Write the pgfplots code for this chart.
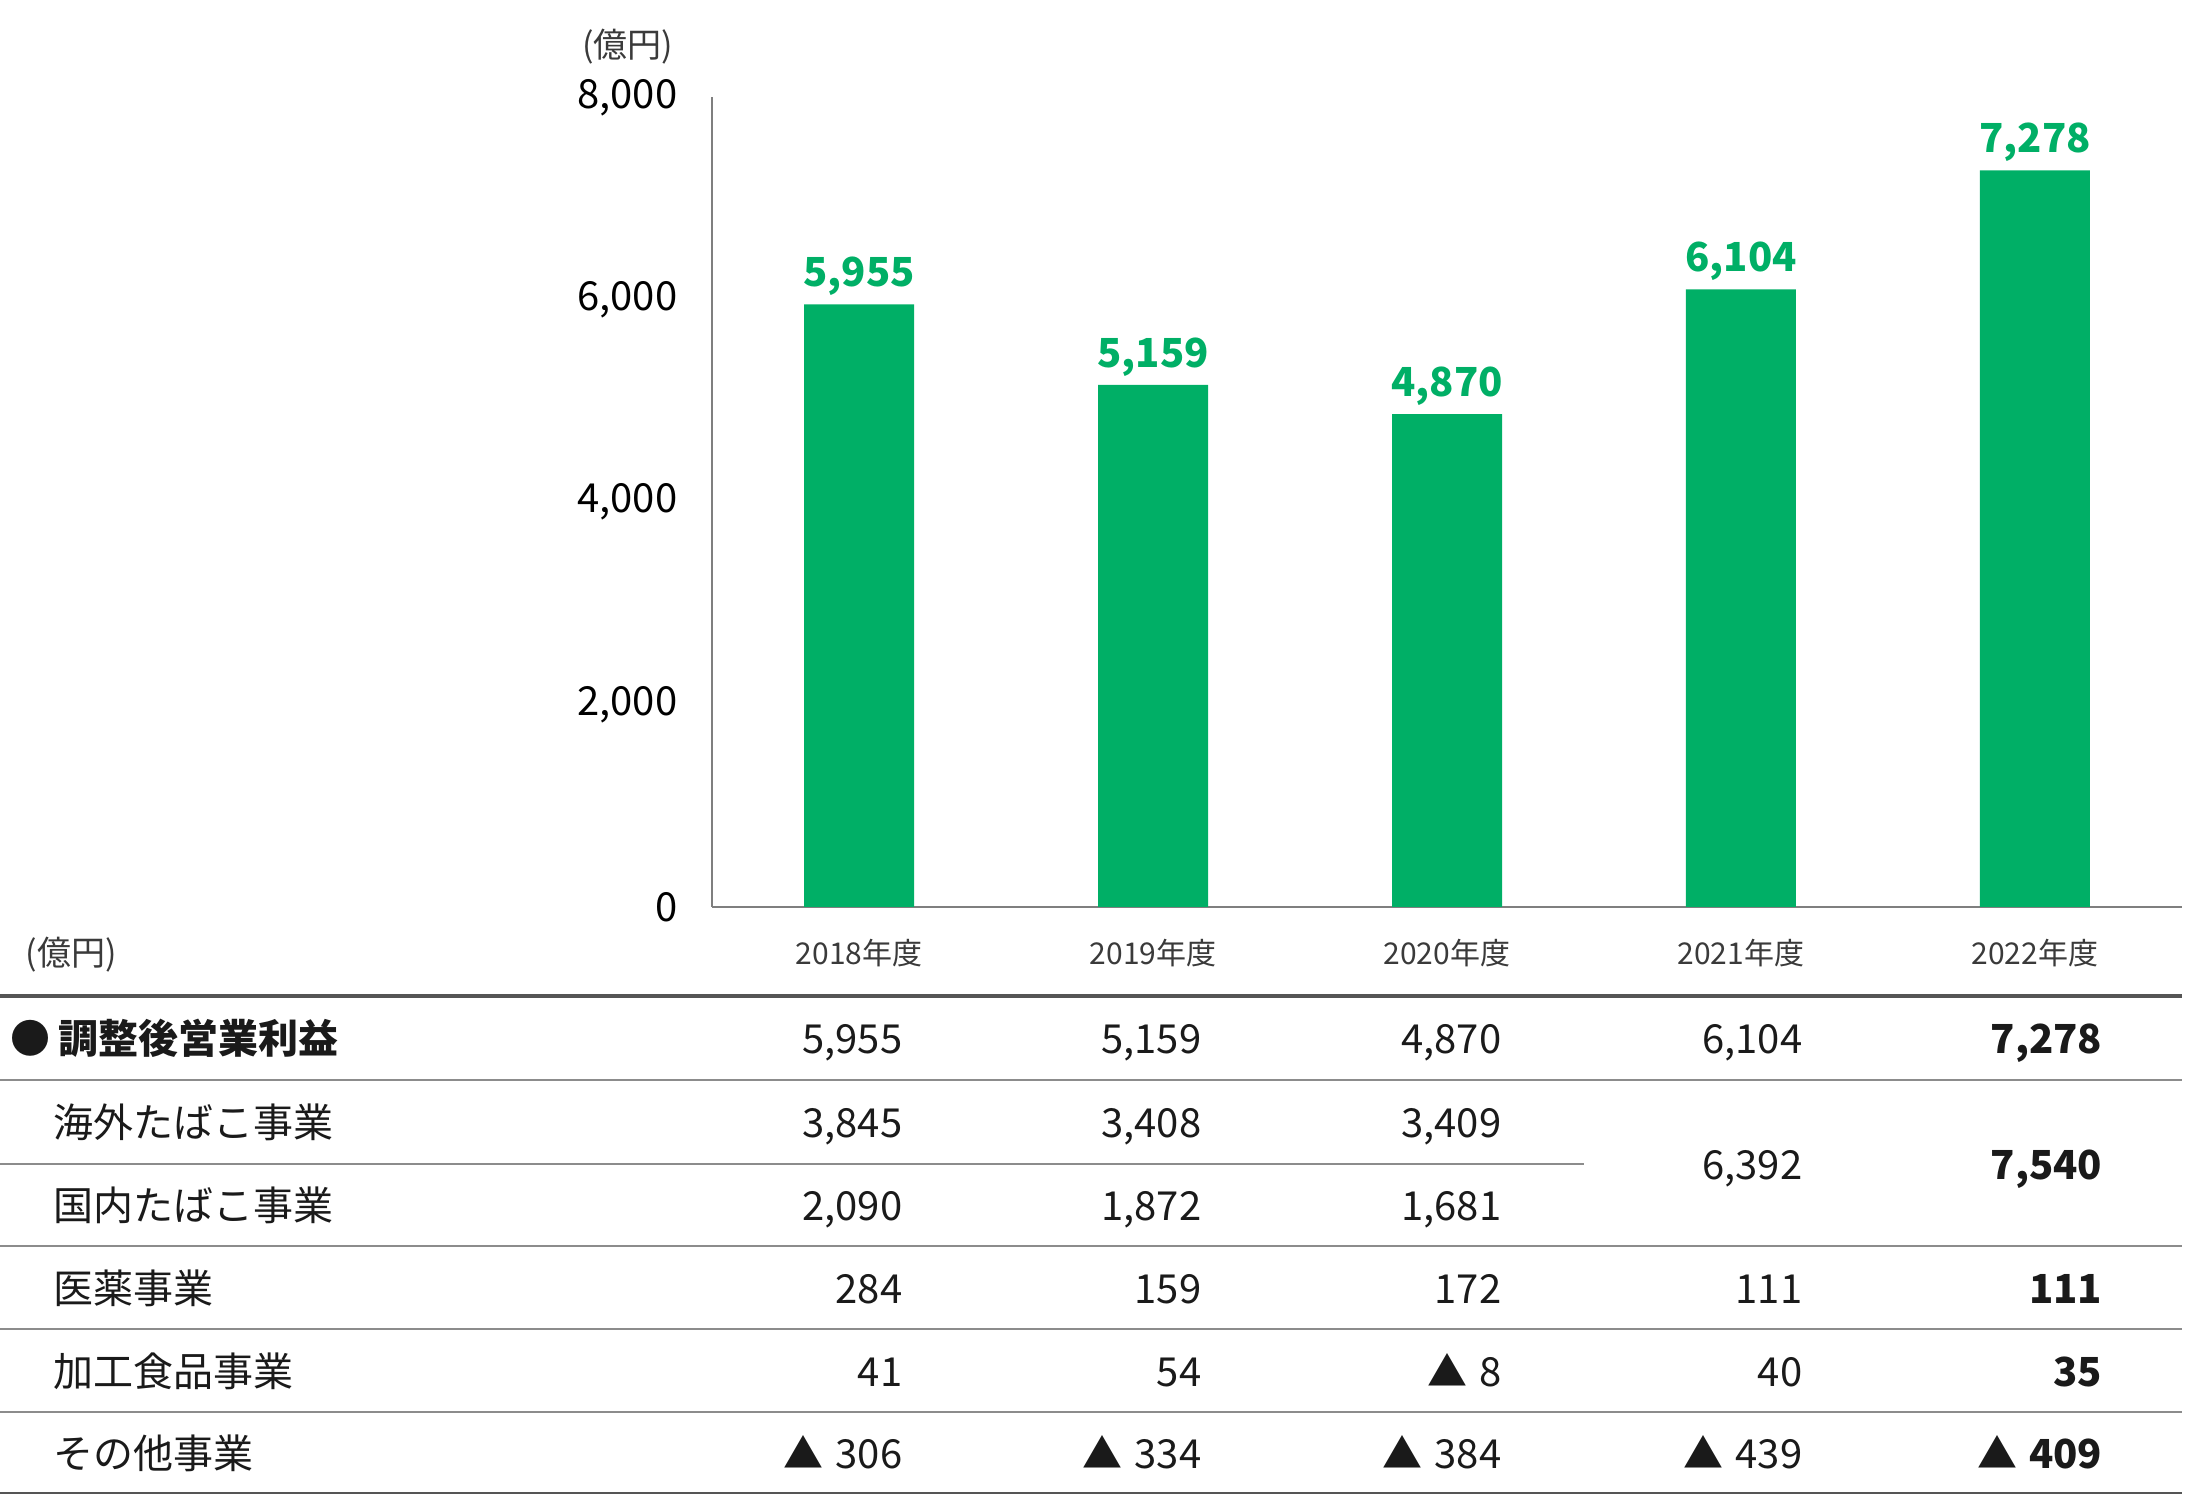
\documentclass[border=0pt]{standalone}
\usepackage{pgfplots}
\pgfplotsset{compat=1.18}
\usepackage{fontspec}
\setmainfont{Noto Sans CJK JP}
\definecolor{jtgreen}{HTML}{00AF66}
\definecolor{axisgray}{HTML}{7F7F7F}
\definecolor{linegray}{HTML}{8C8C8C}
\definecolor{thickgray}{HTML}{555555}
\definecolor{txt}{HTML}{1A1A1A}
\definecolor{yeartxt}{HTML}{3A3A3A}
\newcommand{\fs}[1]{\fontsize{#1}{#1}\selectfont}
\newcommand{\tri}{▲\hspace{0.3em}}
\begin{document}
\begin{tikzpicture}
\useasboundingbox (0,0) rectangle (546.25pt,-374pt);
\begin{axis}[
  at={(178pt,-226.75pt)}, anchor=south west,
  scale only axis, width=367.5pt, height=202.4pt,
  xmin=-0.5, xmax=4.5, ymin=0, ymax=8000,
  axis x line*=bottom, axis y line*=left,
  axis line style={draw=axisgray, line width=0.5pt},
  ytick={0,2000,4000,6000,8000},
  xtick={0,1,2,3,4},
  xticklabels={2018年度,2019年度,2020年度,2021年度,2022年度},
  major tick length=0pt,
  /pgf/number format/assume math mode=true,
  /pgf/number format/1000 sep={,},
  /pgf/number format/fixed,
  scaled y ticks=false,
  yticklabel style={font=\fs{10pt}, text=black, anchor=east, inner sep=0pt, xshift=-8.5pt},
  xticklabel style={font=\fs{7.5pt}, text=yeartxt, anchor=center, inner sep=0pt, yshift=-11.5pt},
  ybar, bar width=27.5pt,
  nodes near coords,
  nodes near coords style={font=\bfseries\fs{10pt}, text=jtgreen, anchor=south, inner sep=0pt, yshift=2pt},
  clip=false,
]
\addplot[fill=jtgreen, draw=none] coordinates {(0,5955) (1,5159) (2,4870) (3,6104) (4,7278)};
\end{axis}
\begin{scope}[x=0.25pt,y=-0.25pt]
\node[anchor=base east, font=\fs{8.5pt}, text=yeartxt, inner sep=0pt] at (674,58) {(億円)};
\node[anchor=base west, font=\fs{8.5pt}, text=yeartxt, inner sep=0pt] at (25,966) {(億円)};
\draw[thickgray, line width=1pt] (0,996) -- (2182,996);
\draw[linegray, line width=0.5pt] (0,1080) -- (2182,1080);
\draw[linegray, line width=0.5pt] (0,1164) -- (1584,1164);
\draw[linegray, line width=0.5pt] (0,1246) -- (2182,1246);
\draw[linegray, line width=0.5pt] (0,1329) -- (2182,1329);
\draw[linegray, line width=0.5pt] (0,1412) -- (2182,1412);
\draw[thickgray, line width=0.6pt] (0,1493) -- (2182,1493);
\begin{scope}[every node/.style={inner sep=0pt, font=\fs{10pt}, text=txt}]
% row labels
\node[anchor=base west, font=\bfseries\fs{10pt}] at (10,1053) {●\hspace{0.2em}調整後営業利益};
\node[anchor=base west] at (53,1137) {海外たばこ事業};
\node[anchor=base west] at (53,1220) {国内たばこ事業};
\node[anchor=base west] at (53,1303) {医薬事業};
\node[anchor=base west] at (53,1386) {加工食品事業};
\node[anchor=base west] at (53,1468) {その他事業};
% row 1
\node[anchor=base east] at (903,1053) {5,955};
\node[anchor=base east] at (1202,1053) {5,159};
\node[anchor=base east] at (1502,1053) {4,870};
\node[anchor=base east] at (1803,1053) {6,104};
\node[anchor=base east, font=\bfseries\fs{10pt}] at (2103,1053) {7,278};
% row 2
\node[anchor=base east] at (903,1137) {3,845};
\node[anchor=base east] at (1202,1137) {3,408};
\node[anchor=base east] at (1502,1137) {3,409};
% row 3
\node[anchor=base east] at (903,1220) {2,090};
\node[anchor=base east] at (1202,1220) {1,872};
\node[anchor=base east] at (1502,1220) {1,681};
% merged
\node[anchor=base east] at (1803,1179) {6,392};
\node[anchor=base east, font=\bfseries\fs{10pt}] at (2103,1179) {7,540};
% row 4
\node[anchor=base east] at (903,1303) {284};
\node[anchor=base east] at (1202,1303) {159};
\node[anchor=base east] at (1502,1303) {172};
\node[anchor=base east] at (1803,1303) {111};
\node[anchor=base east, font=\bfseries\fs{10pt}] at (2103,1303) {111};
% row 5
\node[anchor=base east] at (903,1386) {41};
\node[anchor=base east] at (1202,1386) {54};
\node[anchor=base east] at (1502,1386) {\tri 8};
\node[anchor=base east] at (1803,1386) {40};
\node[anchor=base east, font=\bfseries\fs{10pt}] at (2103,1386) {35};
% row 6
\node[anchor=base east] at (903,1468) {\tri 306};
\node[anchor=base east] at (1202,1468) {\tri 334};
\node[anchor=base east] at (1502,1468) {\tri 384};
\node[anchor=base east] at (1803,1468) {\tri 439};
\node[anchor=base east, font=\bfseries\fs{10pt}] at (2103,1468) {\tri 409};
\end{scope}
\end{scope}
\end{tikzpicture}
\end{document}
